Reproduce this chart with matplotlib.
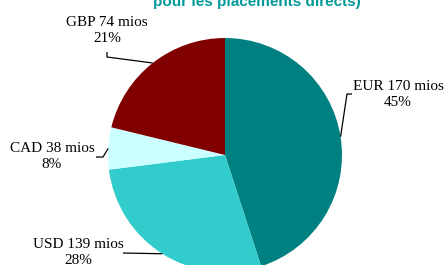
import numpy as np
import matplotlib.pyplot as plt

# data
currencies = ['EUR', 'USD', 'CAD', 'GBP']
amounts = [170, 139, 38, 74]          # mios
pct_labels = [45, 28, 8, 21]          # percentages printed on the labels
shares = [45, 28, 5.8, 21.2]          # slice sizes as drawn
colors = ['#008080', '#33CCCC', '#CCFFFF', '#800000']

W, H = 445, 265
fig = plt.figure(figsize=(W / 100, H / 100), dpi=100)
ax = fig.add_axes([0, 0, 1, 1])

cx, cy, r = 225, H - 155, 117
wedges, _ = ax.pie(shares, colors=colors, startangle=90, counterclock=False,
                   center=(cx, cy), radius=r, frame=True,
                   wedgeprops=dict(linewidth=0))
ax.set_xlim(0, W)
ax.set_ylim(0, H)
ax.set_aspect('equal')
ax.axis('off')

# label position (centre of text block, in pixels from top-left) and leader elbow
label_pos = {'EUR': (398, 95), 'USD': (78, 253), 'CAD': (52, 156), 'GBP': (107, 30)}
elbows = {'EUR': [(347, 94), (352, 94)],
          'USD': [(123, 253)],
          'CAD': [(103, 157), (96, 157)],
          'GBP': [(107, 57), (107, 52)]}

for w, cur, amt, pct in zip(wedges, currencies, amounts, pct_labels):
    mid = np.deg2rad((w.theta1 + w.theta2) / 2)
    ex, ey = cx + r * np.cos(mid), cy + r * np.sin(mid)
    xs = [ex] + [p[0] for p in elbows[cur]]
    ys = [ey] + [H - p[1] for p in elbows[cur]]
    ax.plot(xs, ys, color='black', lw=0.9, solid_capstyle='butt')
    lx, ly = label_pos[cur]
    ax.text(lx, H - ly, f'{cur} {amt} mios\n{pct}%', ha='center', va='center',
            fontsize=11, family='Liberation Serif', linespacing=1.3)

ax.text(257, H - 2, 'pour les placements directs)', ha='center', va='center',
        fontsize=11, fontweight='bold', color='#009999', family='Liberation Sans')

fig.savefig('out.png', dpi=100)
